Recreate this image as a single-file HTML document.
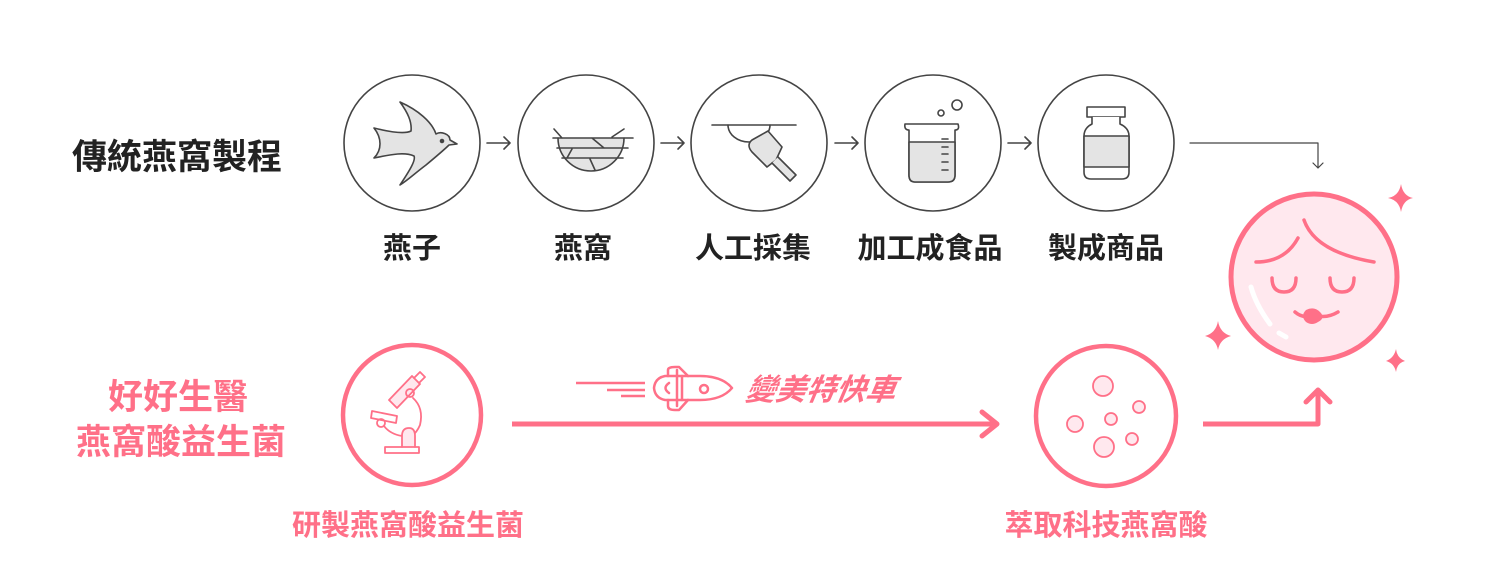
<!DOCTYPE html>
<html><head><meta charset="utf-8"><style>
html,body{margin:0;padding:0;background:#fff;width:1500px;height:584px;overflow:hidden}
text{font-family:"Liberation Sans","Noto Sans CJK TC",sans-serif}
</style></head><body>
<svg width="1500" height="584" viewBox="0 0 1500 584" xmlns="http://www.w3.org/2000/svg">
<g fill="none" stroke="#444" stroke-width="1.6" stroke-linejoin="round" stroke-linecap="round">
<circle cx="412" cy="143" r="68"/>
<circle cx="586" cy="143" r="68"/>
<circle cx="759" cy="143" r="68"/>
<circle cx="933" cy="143" r="68"/>
<circle cx="1106" cy="143" r="68"/>
<path d="M487 143H510M504 137L510 143L504 149"/>
<path d="M661 143H684M678 137L684 143L678 149"/>
<path d="M835 143H858M852 137L858 143L852 149"/>
<path d="M1008 143H1031M1025 137L1031 143L1025 149"/>
<path d="M1190 143H1318V168M1313 163L1318 168L1323 163" stroke-width="1.2"/>
<path d="M400 102C418 110 432 122 436 134C441 131 450 134 450 140L457 144L449 145C444 150 438 155 426 165C414 174 408 180 400 185C410 170 416 160 414 156C405 152 393 154 374 158C382 150 382 138 374 128C390 132 405 134 411 131C412 122 408 113 400 102Z" fill="#e4e4e4"/>
<circle cx="442" cy="141" r="1.5" fill="#444"/>
<path d="M558 138A30 30 0 0 0 624 138" fill="#e4e4e4"/>
<path d="M553 138H633M557 148H628M562 158H623M554 129L562 138M624 129L612 137M592 138L604 148M572 149L567 158M590 159L595 170"/>
<path d="M712 125H796"/>
<path d="M728 125A21 17 0 0 0 770 125"/>
<path d="M768 131L782 147L776 160L767 167L752 152Q746 145 752 140Z" fill="#e4e4e4"/>
<path d="M772 163L790 181L796 175L778 157" fill="#e4e4e4"/>
<path d="M905 124H958Q960 130 955 130V175Q955 182 948 182H915Q909 182 909 175V130Q904 130 905 124Z" fill="#fff"/>
<path d="M909 142H955V175Q955 182 948 182H915Q909 182 909 175Z" fill="#e4e4e4"/>
<path d="M942 139H948M942 147H948M942 154H948M942 162H948M942 170H948"/>
<circle cx="941" cy="113" r="3"/><circle cx="957" cy="105" r="5"/>
<rect x="1087" y="107" width="38" height="10"/>
<path d="M1092 117V124Q1084 128 1084 136V172Q1084 179 1091 179H1122Q1129 179 1129 172V136Q1129 128 1120 124V117" fill="#fff"/>
<rect x="1084" y="136" width="45" height="31" fill="#e4e4e4"/>
</g>
<g fill="#222" font-size="35" font-weight="bold"><text x="72" y="169">傳統燕窩製程</text></g>
<g fill="#222" font-size="29" font-weight="bold" text-anchor="middle">
<text x="412" y="258">燕子</text><text x="583" y="258">燕窩</text><text x="753" y="258">人工採集</text><text x="930" y="258">加工成食品</text><text x="1106" y="258">製成商品</text>
</g>
<g fill="#ff7088" font-weight="bold" text-anchor="middle">
<text x="178" y="409" font-size="35">好好生醫</text>
<text x="181" y="454" font-size="35">燕窩酸益生菌</text>
<text x="408" y="535" font-size="29">研製燕窩酸益生菌</text>
<text x="1106" y="535" font-size="29">萃取科技燕窩酸</text>
</g>
<text x="0" y="400" font-size="30" font-weight="bold" font-style="italic" fill="#ff7088" transform="translate(815 0) skewX(-10)">變美特快車</text>
<g fill="none" stroke="#ff7088" stroke-linejoin="round" stroke-linecap="round">
<ellipse cx="412" cy="415" rx="69" ry="70" stroke-width="4.5"/>
<circle cx="1106" cy="416" r="70" stroke-width="4.5"/>
<path d="M512 424H997" stroke-width="5" stroke-linecap="butt"/>
<path d="M982 412L997 424L982 436" stroke-width="5"/>
<path d="M1203 424H1318V392" stroke-width="5" stroke-linecap="butt"/>
<path d="M1306 402L1318 390L1330 402" stroke-width="5"/>
<g stroke-width="1.8">
<circle cx="1103" cy="386" r="10" fill="#ffe8ee"/><circle cx="1104" cy="447" r="10" fill="#ffe8ee"/>
<circle cx="1075" cy="424" r="8" fill="#ffe8ee"/><circle cx="1111" cy="419" r="6" fill="#ffe8ee"/>
<circle cx="1139" cy="407" r="6" fill="#ffe8ee"/><circle cx="1132" cy="439" r="6" fill="#ffe8ee"/>
<path d="M389 400L412 376L420 384L397 408Z" fill="#ffe8ee"/>
<path d="M414 378L420 372L425 377L419 383"/>
<circle cx="410" cy="393" r="4"/>
<path d="M413 398Q424 408 420 425Q417 432 412 436"/>
<path d="M372 411L397 416L396 423L371 418Z"/>
<circle cx="381" cy="423" r="4"/>
<path d="M384 426Q390 434 402 436"/>
<path d="M402 447V436Q402 428 409 428Q415 428 415 436V447" fill="#ffe8ee"/>
<rect x="385" y="447" width="34" height="6"/>
</g>
<g stroke-width="2.5">
<path d="M576 383H645M607 390H645M621 396H645" stroke-linecap="butt"/>
<path d="M665 376Q655 378 654 388Q655 398 665 400H700Q722 400 732 388Q722 376 700 376Z"/>
<path d="M668 376V370Q668 367 675 367H679L688 376M668 400V406Q668 410 675 410H679L688 400"/>
<path d="M677 370V406M682 376V400"/>
<path d="M669 383Q662 388 669 393"/>
<circle cx="704" cy="389" r="4"/>
</g>
<circle cx="1314" cy="277" r="83" fill="#ffe8ee" stroke-width="5"/>
<g stroke-width="3.5">
<path d="M1256 262Q1285 262 1298 238M1304 220Q1315 252 1374 262"/>
<path d="M1272 278Q1272 292 1284 292Q1296 292 1296 278M1330 278Q1330 292 1342 292Q1354 292 1354 278"/>
<path d="M1295 312Q1302 318 1310 316M1318 316Q1328 318 1338 312"/>
</g>
<path d="M1251 287Q1256 305 1270 324M1279 333L1286 337" stroke="#fff" stroke-width="5"/>
</g>
<g fill="#ff7088">
<path d="M1306 310Q1314 306 1320 312Q1326 318 1318 322Q1312 326 1306 322Q1300 316 1306 310Z"/>
<path d="M1401 184Q1403 196 1413 198Q1403 200 1401 212Q1399 200 1388 198Q1399 196 1401 184Z"/>
<path d="M1218 321Q1220 333 1231 336Q1220 339 1218 350Q1216 339 1205 336Q1216 333 1218 321Z"/>
<path d="M1396 349Q1397 358 1405 361Q1397 363 1396 372Q1394 363 1386 361Q1394 358 1396 349Z"/>
</g>
</svg>
</body></html>
